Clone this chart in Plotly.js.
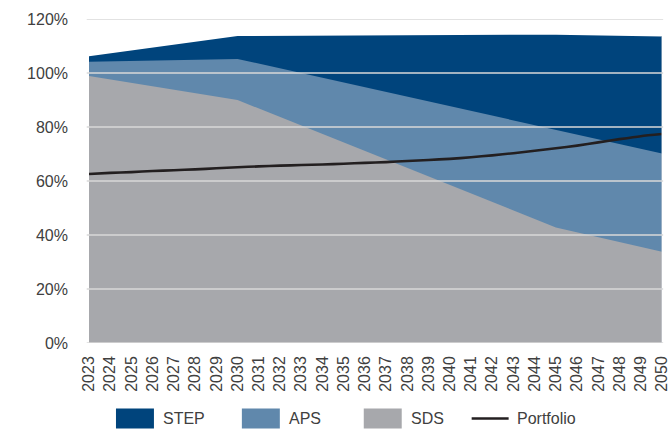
<!DOCTYPE html>
<html>
<head>
<meta charset="utf-8">
<script src="https://cdn.plot.ly/plotly-3.0.1.min.js"></script>
<style>
  html, body { margin: 0; padding: 0; background: #ffffff; }
  #chart { width: 668px; height: 432px; }
</style>
</head>
<body>
<div id="chart"></div>
<script>
// Years on the horizontal axis
const years = [2023, 2024, 2025, 2026, 2027, 2028, 2029, 2030, 2031, 2032, 2033, 2034, 2035, 2036,
               2037, 2038, 2039, 2040, 2041, 2042, 2043, 2044, 2045, 2046, 2047, 2048, 2049, 2050];
const yearLabels = years.map(String);

// Scenario pathways (% of base), given at their milestone years
const stepYears = [2023, 2030, 2045, 2050];
const stepValues = [106.2, 113.7, 114.2, 113.5];

const apsYears = [2023, 2030, 2050];
const apsValues = [104.2, 105.2, 70.2];

const sdsYears = [2023, 2030, 2045, 2050];
const sdsValues = [98.9, 90.0, 42.8, 33.8];

// Portfolio trajectory, one value per year
const portfolioValues = [62.6, 63.0, 63.3, 63.7, 64.0, 64.3, 64.7, 65.1, 65.4, 65.7, 65.9, 66.1, 66.4, 66.7,
                         67.0, 67.4, 67.8, 68.2, 68.8, 69.5, 70.3, 71.2, 72.1, 73.1, 74.3, 75.5, 76.6, 77.4];

const yTicks = [0, 20, 40, 60, 80, 100, 120];
const yTickLabels = yTicks.map(v => v + '%');

const colors = { STEP: '#00447c', APS: '#6088ac', SDS: '#a7a8ac', Portfolio: '#231f20' };
const labelFont = '"Liberation Sans", Arial, sans-serif';
const textColor = '#404040';

// Plot-area geometry in pixels
const W = 668, H = 432;
const M = { l: 89, r: 5.5, t: 19, b: 89 };
const plotW = W - M.l - M.r, plotH = H - M.t - M.b;
const px = x => (x - M.l) / plotW;       // pixel column -> paper x
const py = y => (H - M.b - y) / plotH;   // pixel row -> paper y

function area(name, xs, ys) {
  return {
    type: 'scatter', mode: 'lines', name: name,
    x: xs, y: ys, fill: 'tozeroy',
    fillcolor: colors[name], line: { width: 0, color: colors[name] },
    hoverinfo: 'skip'
  };
}

const traces = [
  area('STEP', stepYears, stepValues),
  area('APS', apsYears, apsValues),
  area('SDS', sdsYears, sdsValues),
  {
    type: 'scatter', mode: 'lines', name: 'Portfolio',
    x: years, y: portfolioValues,
    line: { color: colors.Portfolio, width: 2.6, shape: 'spline', smoothing: 0.6 }
  }
];

// Horizontal gridlines sit on top of the filled areas
const shapes = yTicks.map(v => ({
  type: 'line', xref: 'paper', yref: 'y', layer: 'above',
  x0: -0.004, x1: 1.002, y0: v, y1: v,
  line: { color: '#d9d9d9', width: 1.5 }
}));
shapes.push({
  type: 'line', xref: 'x', yref: 'y', layer: 'above',
  x0: years[years.length - 1], x1: years[years.length - 1],
  y0: 0, y1: stepValues[stepValues.length - 1],
  line: { color: '#d5d9df', width: 1 }
});

// Legend row along the bottom
const legendItems = [
  { name: 'STEP', kind: 'box', x: 116 },
  { name: 'APS', kind: 'box', x: 242 },
  { name: 'SDS', kind: 'box', x: 364 },
  { name: 'Portfolio', kind: 'line', x: 472 }
];
const annotations = [];
const legendMid = 418.5;
legendItems.forEach(it => {
  if (it.kind === 'box') {
    shapes.push({
      type: 'rect', xref: 'paper', yref: 'paper',
      x0: px(it.x), x1: px(it.x + 38), y0: py(legendMid + 10), y1: py(legendMid - 10),
      fillcolor: colors[it.name], line: { width: 0 }
    });
  } else {
    shapes.push({
      type: 'line', xref: 'paper', yref: 'paper',
      x0: px(it.x), x1: px(it.x + 37), y0: py(legendMid), y1: py(legendMid),
      line: { color: colors[it.name], width: 2.5 }
    });
  }
  annotations.push({
    xref: 'paper', yref: 'paper', x: px(it.x + (it.kind === 'box' ? 45 : 43)), y: py(legendMid),
    xanchor: 'left', yanchor: 'middle', showarrow: false, text: it.name,
    font: { family: labelFont, size: 16, color: textColor }
  });
});

const layout = {
  width: W, height: H,
  margin: M,
  paper_bgcolor: '#ffffff', plot_bgcolor: '#ffffff',
  showlegend: false,
  xaxis: {
    type: 'linear', range: [2023, 2050],
    tickvals: years, ticktext: yearLabels, tickangle: -90,
    ticklabeloverflow: 'allow',
    showgrid: false, zeroline: false, showline: false, ticks: '',
    ticklabelstandoff: 9,
    tickfont: { family: labelFont, size: 16, color: textColor }
  },
  yaxis: {
    range: [0, 120], tickvals: yTicks, ticktext: yTickLabels,
    showgrid: false, zeroline: false, showline: false, ticks: '',
    ticklabelstandoff: 20,
    tickfont: { family: labelFont, size: 16, color: textColor }
  },
  shapes: shapes,
  annotations: annotations
};

Plotly.newPlot('chart', traces, layout, { staticPlot: true, displayModeBar: false });
</script>
</body>
</html>
